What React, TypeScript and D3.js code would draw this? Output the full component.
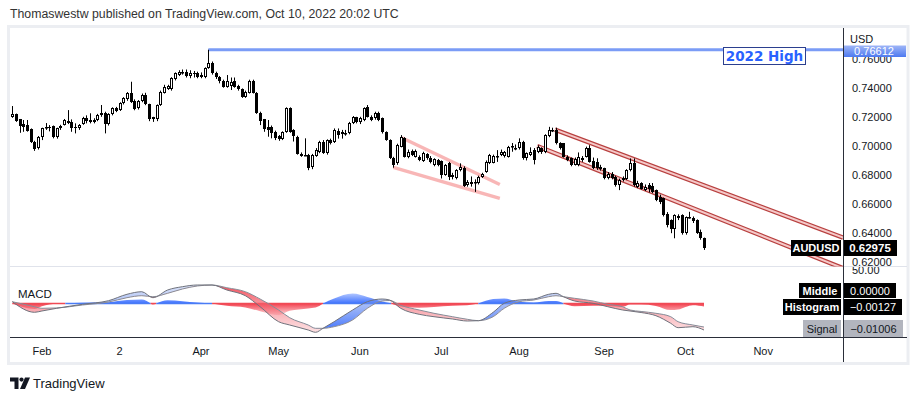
import React from "react";
import * as d3 from "d3";

// ---------- DATA (AUDUSD daily, 20 Jan 2022 – 10 Oct 2022) ----------
const opens = [0.72,0.7219,0.7182,0.715,0.7143,0.7114,0.7028,0.6983,0.7059,0.7125,0.7128,0.7136,0.7059,0.712,0.7143,0.717,0.7166,0.7132,0.7121,0.715,0.7189,0.7178,0.7164,0.7178,0.721,0.7228,0.715,0.7219,0.7258,0.7246,0.7293,0.732,0.7366,0.7311,0.7258,0.7311,0.735,0.7286,0.7196,0.7182,0.7281,0.7366,0.739,0.7389,0.7458,0.7487,0.7499,0.751,0.7478,0.75,0.7503,0.7476,0.7472,0.7534,0.7572,0.7503,0.7476,0.7448,0.7407,0.741,0.7448,0.7412,0.7389,0.7338,0.7366,0.7448,0.7366,0.7228,0.7182,0.7128,0.7128,0.7097,0.7067,0.7045,0.7097,0.7258,0.7109,0.7063,0.6944,0.6937,0.6937,0.6852,0.693,0.6959,0.7028,0.6951,0.704,0.7028,0.7104,0.7097,0.7084,0.7086,0.7155,0.7196,0.7166,0.7178,0.7269,0.72,0.7189,0.7224,0.7189,0.7093,0.704,0.6918,0.688,0.6994,0.7052,0.6925,0.6964,0.6925,0.6925,0.6895,0.6941,0.6918,0.6868,0.6902,0.6895,0.6799,0.688,0.6787,0.6776,0.6833,0.6849,0.673,0.6735,0.6745,0.6742,0.6787,0.6822,0.688,0.6885,0.6928,0.6937,0.693,0.6925,0.699,0.6985,0.6983,0.7028,0.6914,0.694,0.6971,0.696,0.6983,0.6955,0.707,0.7108,0.7109,0.7017,0.7017,0.6925,0.6914,0.687,0.6868,0.692,0.6925,0.6983,0.6895,0.689,0.6856,0.6845,0.678,0.681,0.6787,0.673,0.6765,0.677,0.6833,0.688,0.6718,0.6742,0.6696,0.673,0.6726,0.6696,0.665,0.6639,0.6535,0.6489,0.6432,0.652,0.6524,0.64,0.651,0.6505,0.6489,0.641,0.6364];
const highs = [0.7274,0.7222,0.7185,0.7178,0.7178,0.712,0.7035,0.7068,0.7125,0.7157,0.7143,0.714,0.7125,0.7145,0.7185,0.7246,0.7182,0.7155,0.715,0.72,0.721,0.7224,0.719,0.722,0.7281,0.7235,0.7225,0.7265,0.7268,0.73,0.7335,0.737,0.7441,0.732,0.7315,0.736,0.7365,0.729,0.72,0.7285,0.738,0.742,0.742,0.7472,0.7505,0.752,0.7525,0.7525,0.752,0.7515,0.751,0.7505,0.754,0.7661,0.758,0.751,0.748,0.7455,0.7487,0.747,0.747,0.742,0.7395,0.738,0.7455,0.7455,0.737,0.7235,0.7185,0.7178,0.714,0.7105,0.7075,0.71,0.7265,0.7265,0.7115,0.707,0.6955,0.7052,0.6945,0.6945,0.6985,0.7035,0.704,0.7045,0.705,0.712,0.712,0.711,0.711,0.7165,0.7205,0.72,0.72,0.7265,0.7281,0.721,0.7235,0.7235,0.7195,0.71,0.7045,0.6925,0.7015,0.7074,0.706,0.6975,0.6975,0.6975,0.6935,0.696,0.695,0.693,0.6915,0.691,0.69,0.6875,0.689,0.6815,0.684,0.688,0.686,0.6765,0.679,0.677,0.6795,0.6815,0.69,0.6945,0.694,0.6971,0.6975,0.6965,0.7,0.702,0.701,0.7052,0.7035,0.6955,0.699,0.6985,0.7005,0.699,0.708,0.7131,0.7125,0.7125,0.7025,0.702,0.6935,0.692,0.692,0.6955,0.693,0.6995,0.7005,0.692,0.6915,0.687,0.685,0.682,0.682,0.6795,0.6775,0.679,0.684,0.6914,0.6914,0.676,0.675,0.6735,0.6745,0.6745,0.67,0.6665,0.6645,0.6545,0.6495,0.653,0.653,0.653,0.6515,0.6547,0.6515,0.6495,0.6425,0.637];
const lows = [0.7193,0.7165,0.709,0.7097,0.7098,0.702,0.6966,0.6975,0.704,0.711,0.71,0.7052,0.705,0.711,0.714,0.715,0.7097,0.7086,0.711,0.7145,0.7155,0.7155,0.7155,0.717,0.72,0.7086,0.714,0.721,0.7232,0.724,0.7285,0.731,0.7295,0.7245,0.725,0.73,0.728,0.717,0.7165,0.717,0.7275,0.736,0.7385,0.738,0.745,0.748,0.749,0.747,0.7465,0.747,0.7465,0.7465,0.7465,0.753,0.749,0.746,0.743,0.74,0.74,0.7384,0.74,0.738,0.733,0.733,0.736,0.736,0.722,0.7143,0.7097,0.7063,0.7052,0.704,0.7035,0.704,0.709,0.709,0.703,0.694,0.6925,0.693,0.6833,0.684,0.6925,0.695,0.6945,0.694,0.701,0.702,0.705,0.705,0.707,0.708,0.715,0.7155,0.715,0.717,0.7195,0.717,0.718,0.717,0.7085,0.7035,0.691,0.685,0.687,0.699,0.692,0.6915,0.693,0.692,0.6895,0.689,0.6905,0.688,0.686,0.686,0.6776,0.6795,0.6765,0.677,0.677,0.6825,0.6718,0.672,0.672,0.6684,0.6735,0.678,0.6815,0.6875,0.688,0.689,0.693,0.692,0.692,0.696,0.697,0.6975,0.6905,0.69,0.693,0.6873,0.695,0.6945,0.695,0.706,0.7095,0.701,0.6975,0.692,0.6895,0.686,0.6865,0.686,0.689,0.692,0.6885,0.684,0.6835,0.683,0.677,0.677,0.677,0.672,0.6696,0.6755,0.6765,0.6825,0.672,0.671,0.67,0.669,0.668,0.6675,0.662,0.66,0.6515,0.644,0.64,0.6365,0.649,0.639,0.639,0.65,0.647,0.6395,0.6355,0.6285];
const closes = [0.7219,0.7173,0.7136,0.7132,0.7104,0.7028,0.6976,0.7063,0.712,0.7128,0.7126,0.7059,0.712,0.7136,0.7178,0.7155,0.7125,0.7121,0.7143,0.7193,0.7173,0.7162,0.7178,0.7212,0.7228,0.715,0.7219,0.7258,0.7242,0.7293,0.7327,0.7361,0.7304,0.7253,0.7308,0.735,0.7286,0.7182,0.7182,0.7281,0.7372,0.7407,0.7412,0.7465,0.7499,0.7508,0.751,0.748,0.75,0.7495,0.7476,0.749,0.7534,0.7572,0.7499,0.7472,0.7448,0.7407,0.7448,0.7441,0.7407,0.7389,0.7338,0.7372,0.7448,0.7366,0.7228,0.7173,0.7114,0.7109,0.709,0.7056,0.7045,0.7097,0.7258,0.7097,0.7067,0.6944,0.693,0.6939,0.6845,0.6937,0.6971,0.7028,0.6951,0.704,0.7021,0.7109,0.7074,0.708,0.7088,0.7159,0.7196,0.7166,0.7193,0.7258,0.72,0.7178,0.7224,0.7178,0.7093,0.704,0.6918,0.6868,0.7005,0.7063,0.6925,0.6955,0.6937,0.6964,0.6902,0.6948,0.6914,0.689,0.6909,0.6868,0.6799,0.6868,0.6787,0.6803,0.6833,0.6856,0.6725,0.6753,0.6753,0.6751,0.6787,0.681,0.6891,0.6937,0.693,0.6932,0.696,0.6955,0.6994,0.6997,0.6988,0.7028,0.6914,0.6948,0.696,0.6902,0.6994,0.6955,0.7074,0.7109,0.711,0.7017,0.6983,0.6925,0.6902,0.6868,0.691,0.6925,0.69,0.6983,0.689,0.6845,0.6845,0.684,0.6776,0.681,0.6776,0.673,0.6765,0.6776,0.6833,0.688,0.673,0.6742,0.6707,0.6719,0.6707,0.6684,0.6627,0.6611,0.6524,0.6455,0.6432,0.6524,0.6505,0.64,0.651,0.6512,0.6485,0.64,0.6365,0.62975];

const monthLabels = ["Feb", "2", "Apr", "May", "Jun", "Jul", "Aug", "Sep", "Oct", "Nov"];
const monthDates = ["2022-02-01", "2022-03-02", "2022-04-01", "2022-05-02", "2022-06-01", "2022-07-01", "2022-08-01", "2022-09-01", "2022-10-03", "2022-11-01"];
const priceTicks = [0.76, 0.74, 0.72, 0.7, 0.68, 0.66, 0.64, 0.62];

const macdIdx = [0,6,8,12,19,26,31,35,38,42,46,50,54,58,63,67,72,75,80,82,84,87,92,96,100,102,105,110,114,119,123,126,130,133,137,141,145,147,149,152,157,161,165,167,170,174,178,180,184,187];
const macdVals = [0.00077,-0.00376,-0.0032,-0.00205,-0.00034,0.0012,0.00393,0.00504,0.00248,0.00577,0.00718,0.0079,0.0079,0.00577,0.00333,-0.00137,-0.00778,-0.00919,-0.01132,-0.01231,-0.0106,-0.00778,-0.00278,0.00077,0.00192,0.0015,-0.00205,-0.00462,-0.00564,-0.00662,-0.00748,-0.00735,-0.00376,0.00009,0.0015,0.00192,0.00393,0.00436,0.0029,0.00107,0.00009,-0.00137,-0.00278,-0.0032,-0.00385,-0.00521,-0.00846,-0.01034,-0.00991,-0.01133];
const signalVals = [0.00077,-0.00137,-0.00205,-0.0019,-0.00064,0.00064,0.00248,0.00333,0.0029,0.00436,0.0062,0.00748,0.0079,0.00675,0.00504,0.00192,-0.00278,-0.00607,-0.00919,-0.0106,-0.0106,-0.00991,-0.00705,-0.00205,0.00107,0.00128,-0.00077,-0.00278,-0.00419,-0.00564,-0.00675,-0.00735,-0.00564,-0.00205,0.00077,0.0015,0.0029,0.00333,0.0029,0.00222,0.00107,-0.00034,-0.00137,-0.00278,-0.0034,-0.00419,-0.00564,-0.00778,-0.00919,-0.01006];

// drawings: [bar index, price]
const highLevel = 0.76612;
const highFromBar = 53;
const wedgeUpper = [[105.3, 0.7056], [131.8, 0.6735]];
const wedgeLower = [[103.0, 0.6852], [131.8, 0.6639]];
const channelUpper = [[146.7, 0.7112], [224.6, 0.637]];
const channelLower = [[141.9, 0.6999], [224.6, 0.6159]];

const FONT = "'Liberation Sans', Arial, sans-serif";

const tradingDays = d3
  .utcDay.range(new Date("2022-01-20T00:00:00Z"), new Date("2022-12-01T00:00:00Z"))
  .filter((d) => d.getUTCDay() % 6 !== 0);
const dayIndex = (s: string) => tradingDays.findIndex((d) => +d === +new Date(s + "T00:00:00Z"));

type Pt = { i: number; v: number };
function signRuns(pts: Pt[]) {
  const out: { pos: boolean; pts: Pt[] }[] = [];
  let cur: Pt[] = [pts[0]];
  for (let k = 1; k < pts.length; k++) {
    const a = pts[k - 1], b = pts[k];
    if ((a.v >= 0) !== (b.v >= 0)) {
      const t = a.v / (a.v - b.v);
      const c = { i: a.i + t * (b.i - a.i), v: 0 };
      cur.push(c);
      out.push({ pos: a.v >= 0, pts: cur });
      cur = [c, b];
    } else cur.push(b);
  }
  out.push({ pos: cur[cur.length - 1].v >= 0, pts: cur });
  return out;
}

export default function App() {
  const n = closes.length;
  const x = d3.scaleLinear().domain([0, n - 1]).range([12.3, 704]);
  const y = d3.scaleLinear().domain([0.62, 0.74]).range([262.3, 87.7]);
  const yM = d3.scaleLinear().domain([-0.01, 0.01]).range([303.5 + 23.4, 303.5 - 23.4]);
  const zeroY = yM(0);

  const pts = macdIdx.map((i, k) => ({ i, m: macdVals[k], s: signalVals[k] }));
  const lineM = d3.line<any>().x((d) => x(d.i)).y((d) => yM(d.m)).curve(d3.curveMonotoneX);
  const lineS = d3.line<any>().x((d) => x(d.i)).y((d) => yM(d.s)).curve(d3.curveMonotoneX);
  const between = d3.area<any>().x((d) => x(d.i)).y0((d) => yM(d.s)).y1((d) => yM(d.m)).curve(d3.curveMonotoneX);
  const aboveS = d3.area<any>().x((d) => x(d.i)).y0(260).y1((d) => yM(d.s)).curve(d3.curveMonotoneX);
  const belowS = d3.area<any>().x((d) => x(d.i)).y0(345).y1((d) => yM(d.s)).curve(d3.curveMonotoneX);
  const histRuns = signRuns(pts.map((p) => ({ i: p.i, v: p.m - p.s })));
  const histArea = d3.area<Pt>().x((d) => x(d.i)).y0(zeroY).y1((d) => yM(d.v)).curve(d3.curveMonotoneX);

  const seg = (l: number[][]) => ({ x1: x(l[0][0]), y1: y(l[0][1]), x2: x(l[1][0]), y2: y(l[1][1]) });
  const wu = seg(wedgeUpper), wl = seg(wedgeLower), cu = seg(channelUpper), cl = seg(channelLower);
  const hy = y(highLevel);

  const candles = closes.map((c, i) => {
    const o = opens[i];
    const px = Math.round(x(i));
    const top = Math.round(y(Math.max(o, c)));
    const bot = Math.round(y(Math.min(o, c)));
    const up = c >= o;
    return (
      <g key={i}>
        <line x1={px + 0.5} x2={px + 0.5} y1={y(highs[i])} y2={y(lows[i])} stroke="#000" strokeWidth={1} />
        {up ? (
          <rect x={px - 0.5} y={top + 0.5} width={2} height={Math.max(bot - top - 1, 0.5)} fill="#fff" stroke="#000" strokeWidth={1} />
        ) : (
          <rect x={px - 1} y={top} width={3} height={Math.max(bot - top, 1)} fill="#000" />
        )}
      </g>
    );
  });

  const txt = { fontFamily: FONT } as const;

  return (
    <svg width={917} height={401} style={{ position: "absolute", left: 0, top: 0, background: "#fff" }}>
      <defs>
        <clipPath id="mainClip"><rect x={10} y={28} width={833} height={238.5} /></clipPath>
        <clipPath id="macdClip"><rect x={10} y={267} width={833} height={70} /></clipPath>
        <clipPath id="c50"><rect x={844} y={267} width={64} height={12} /></clipPath>
        <clipPath id="aboveS"><path d={aboveS(pts) || ""} /></clipPath>
        <clipPath id="belowS"><path d={belowS(pts) || ""} /></clipPath>
        <linearGradient id="hpos" gradientUnits="userSpaceOnUse" x1={0} y1={zeroY} x2={0} y2={zeroY - 14}>
          <stop offset="0" stopColor="#2962ff" stopOpacity={0.9} />
          <stop offset="1" stopColor="#2962ff" stopOpacity={0.15} />
        </linearGradient>
        <linearGradient id="hneg" gradientUnits="userSpaceOnUse" x1={0} y1={zeroY} x2={0} y2={zeroY + 12}>
          <stop offset="0" stopColor="#f23645" stopOpacity={0.95} />
          <stop offset="1" stopColor="#f23645" stopOpacity={0.15} />
        </linearGradient>
        <linearGradient id="fpos" gradientUnits="userSpaceOnUse" x1={0} y1={334} x2={0} y2={283}>
          <stop offset="0" stopColor="#2962ff" stopOpacity={0.95} />
          <stop offset="1" stopColor="#90a8e8" stopOpacity={0.3} />
        </linearGradient>
        <linearGradient id="fneg" gradientUnits="userSpaceOnUse" x1={0} y1={284} x2={0} y2={334}>
          <stop offset="0" stopColor="#f23645" stopOpacity={0.9} />
          <stop offset="1" stopColor="#f7a0a7" stopOpacity={0.3} />
        </linearGradient>
        <linearGradient id="hiBox" x1={0} y1={0} x2={0} y2={1}>
          <stop offset="0" stopColor="#9fb6f7" />
          <stop offset="1" stopColor="#4d79f0" />
        </linearGradient>
      </defs>

      <text x={10} y={18} fontSize={12.3} fill="#333" {...txt}>
        Thomaswestw published on TradingView.com, Oct 10, 2022 20:02 UTC
      </text>

      {/* frame */}
      <rect x={8.5} y={26.5} width={899.5} height={337} fill="none" stroke="#eceef2" strokeWidth={3} />
      <line x1={10} x2={907} y1={266.5} y2={266.5} stroke="#e0e3eb" strokeWidth={1} />

      {/* main pane */}
      <g clipPath="url(#mainClip)">
        <line x1={x(highFromBar)} x2={850} y1={hy} y2={hy} stroke="#7b9cf6" strokeWidth={3} />
        <line {...wu} stroke="#f7a9a9" strokeWidth={3.5} strokeOpacity={0.85} />
        <line {...wl} stroke="#f7a9a9" strokeWidth={3.5} strokeOpacity={0.85} />
        <line {...cu} stroke="#b8403f" strokeWidth={4.5} />
        <line {...cu} stroke="#f5c8c8" strokeWidth={2} />
        <line {...cl} stroke="#b8403f" strokeWidth={4.5} />
        <line {...cl} stroke="#f5c8c8" strokeWidth={2} />
        {candles}
      </g>

      {/* 2022 High callout */}
      <rect x={723.5} y={47.5} width={82} height={17} fill="#fff" stroke="#2b3f8f" strokeWidth={1} />
      <text x={764.5} y={61} textAnchor="middle" fontSize={13.5} fontWeight="bold" fill="#2962ff" fontFamily="'DejaVu Sans', sans-serif">
        2022 High
      </text>

      {/* price axis */}
      <text x={850} y={43} fontSize={11} fill="#131722" {...txt}>USD</text>
      {priceTicks.map((p) => (
        <text key={p} x={852} y={y(p) + 4} fontSize={11} fill="#131722" {...txt}>{p.toFixed(5)}</text>
      ))}
      <rect x={843} y={45.5} width={63} height={11.5} fill="url(#hiBox)" />
      <text x={874} y={55} textAnchor="middle" fontSize={11} fill="#fff" {...txt}>{highLevel.toFixed(5)}</text>
      <g clipPath="url(#c50)">
        <text x={852} y={274} fontSize={11} fill="#131722" {...txt}>50.00</text>
      </g>

      <rect x={791} y={240} width={50} height={16} fill="#000" />
      <text x={816} y={252} textAnchor="middle" fontSize={11} fontWeight="bold" fill="#fff" {...txt}>AUDUSD</text>
      <rect x={843} y={240} width={54} height={16} fill="#000" />
      <text x={870} y={252} textAnchor="middle" fontSize={11.5} fontWeight="bold" fill="#fff" {...txt}>{closes[n - 1].toFixed(5)}</text>

      {/* MACD pane */}
      <g clipPath="url(#macdClip)">
        {histRuns.map((r, k) => (
          <g key={k}>
            <path d={histArea(r.pts) || ""} fill={r.pos ? "url(#hpos)" : "url(#hneg)"} />
            <line x1={x(r.pts[0].i)} x2={x(r.pts[r.pts.length - 1].i)} y1={zeroY} y2={zeroY}
              stroke={r.pos ? "#4a7cf5" : "#f04a55"} strokeWidth={1.5} />
          </g>
        ))}
        <path d={between(pts) || ""} fill="url(#fpos)" clipPath="url(#aboveS)" />
        <path d={between(pts) || ""} fill="url(#fneg)" clipPath="url(#belowS)" />
        <path d={lineS(pts) || ""} fill="none" stroke="#8a8d96" strokeWidth={1} />
        <path d={lineM(pts) || ""} fill="none" stroke="#6f727c" strokeWidth={1} />
      </g>
      <text x={18} y={298} fontSize={11.5} fill="#131722" {...txt}>MACD</text>

      <rect x={799} y={283} width={42} height={15} fill="#000" />
      <text x={820} y={294.5} textAnchor="middle" fontSize={11} fontWeight="bold" fill="#fff" {...txt}>Middle</text>
      <rect x={783} y={299} width={58} height={16} fill="#000" />
      <text x={812} y={311} textAnchor="middle" fontSize={11} fontWeight="bold" fill="#fff" {...txt}>Histogram</text>
      <rect x={803} y={320} width={38} height={17} fill="#b2b5be" />
      <text x={822} y={332.5} textAnchor="middle" fontSize={11} fill="#131722" {...txt}>Signal</text>

      <rect x={844} y={283} width={52} height={15} fill="#000" />
      <text x={870} y={294.5} textAnchor="middle" fontSize={11} fill="#fff" {...txt}>0.00000</text>
      <rect x={844} y={299} width={58} height={16} fill="#000" />
      <text x={873} y={311} textAnchor="middle" fontSize={11} fill="#fff" {...txt}>−0.00127</text>
      <rect x={844} y={320} width={59} height={17} fill="#b2b5be" />
      <text x={873.5} y={332.5} textAnchor="middle" fontSize={11} fill="#131722" {...txt}>−0.01006</text>

      {/* separators */}
      <line x1={10} x2={907} y1={337.5} y2={337.5} stroke="#2a2e39" strokeWidth={1} />
      <line x1={843.5} x2={843.5} y1={28} y2={362} stroke="#2a2e39" strokeWidth={1} />

      {/* time axis */}
      {monthLabels.map((m, k) => (
        <text key={m} x={x(dayIndex(monthDates[k]))} y={355} textAnchor="middle" fontSize={11} fill="#131722" {...txt}>{m}</text>
      ))}

      {/* TradingView logo */}
      <g fill="#131722">
        <path d="M10 377.5 h8.5 v11.5 h-4 v-7.5 h-4.5 z" />
        <circle cx={21.5} cy={379.6} r={2.1} />
        <path d="M25 377.5 h5 l-5 11.5 h-5 z" />
      </g>
      <text x={33} y={388} fontSize={13} fill="#131722" {...txt}>TradingView</text>
    </svg>
  );
}
